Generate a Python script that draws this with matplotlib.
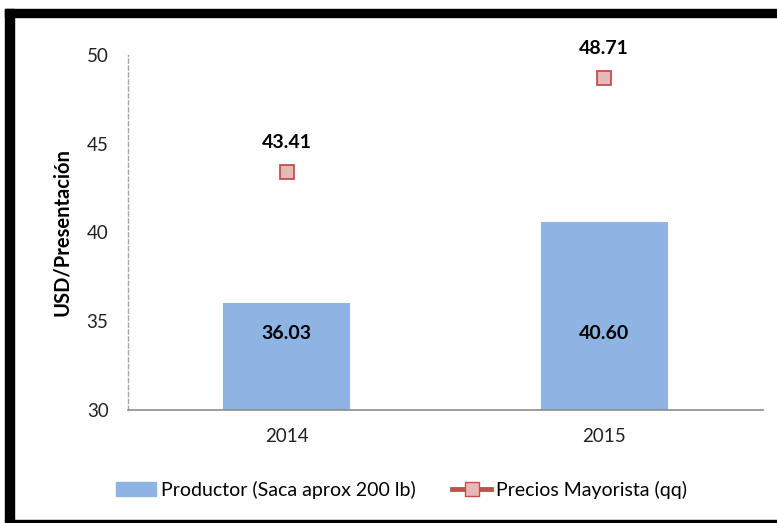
import matplotlib.pyplot as plt
from matplotlib.patches import Rectangle
from matplotlib.lines import Line2D

years = ['2014', '2015']
productor = [36.03, 40.60]
mayorista = [43.41, 48.71]
y_ticks = [30, 35, 40, 45, 50]

plt.rcParams['font.family'] = ['Lato', 'DejaVu Sans']

fig = plt.figure(figsize=(7.77, 5.23), dpi=100)
ax = fig.add_axes([0.1647, 0.216, 0.8173, 0.679])

x = range(len(years))
ax.bar(x, productor, width=0.4, color='#8DB4E2', bottom=0, zorder=2)
ax.plot(x, mayorista, linestyle='none', marker='s', markersize=9.5,
        markerfacecolor='#E6B9B8', markeredgecolor='#C0504D', markeredgewidth=1.3, zorder=3)

for i, v in enumerate(productor):
    ax.text(i, 34.3, f'{v:.2f}', ha='center', va='center', fontsize=14, fontweight='bold')
for i, v in enumerate(mayorista):
    ax.annotate(f'{v:.2f}', (i, v), xytext=(0, 21), textcoords='offset points',
                ha='center', va='center', fontsize=14, fontweight='bold')

ax.set_xlim(-0.5, 1.5)
ax.set_ylim(30, 50)
ax.set_yticks(y_ticks)
ax.set_xticks(list(x))
ax.set_xticklabels(years)
ax.tick_params(length=0, labelsize=13.5, colors='#222222')
ax.tick_params(axis='y', pad=14)
ax.tick_params(axis='x', pad=13)
ax.set_ylabel('USD/Presentación', fontsize=14.5, fontweight='bold')
ax.yaxis.set_label_coords(-0.088, 0.5)

for s in ['top', 'right']:
    ax.spines[s].set_visible(False)
ax.spines['left'].set_color('#A6A6A6')
ax.spines['left'].set_linestyle((0, (3, 2)))
ax.spines['left'].set_linewidth(1)
ax.spines['bottom'].set_color('#8C8C8C')
ax.spines['bottom'].set_linewidth(1.2)

handles = [
    Rectangle((0, 0), 1, 1, color='#8DB4E2'),
    Line2D([0], [0], color='#C0504D', linewidth=3.5, marker='s', markersize=9.5,
           markerfacecolor='#E6B9B8', markeredgecolor='#C0504D'),
]
fig.legend(handles, ['Productor (Saca aprox 200 lb)', 'Precios Mayorista (qq)'],
           loc='center', bbox_to_anchor=(0.517, 0.064), ncol=2, frameon=False,
           fontsize=14, handlelength=2.05, columnspacing=1.85, handletextpad=0.25)

# black frame of the pasted picture
W, H = 777, 523
fig.patches.append(Rectangle((5 / W, 1 - 17 / H), 1, 8 / H, transform=fig.transFigure,
                             color='black', zorder=10))
fig.patches.append(Rectangle((5 / W, 1 - 521 / H), 9 / W, 512 / H, transform=fig.transFigure,
                             color='black', zorder=10))
fig.patches.append(Rectangle((5 / W, 1 - 522 / H), 1, 2.5 / H, transform=fig.transFigure,
                             color='black', zorder=10))

fig.savefig('out.png', dpi=100)
